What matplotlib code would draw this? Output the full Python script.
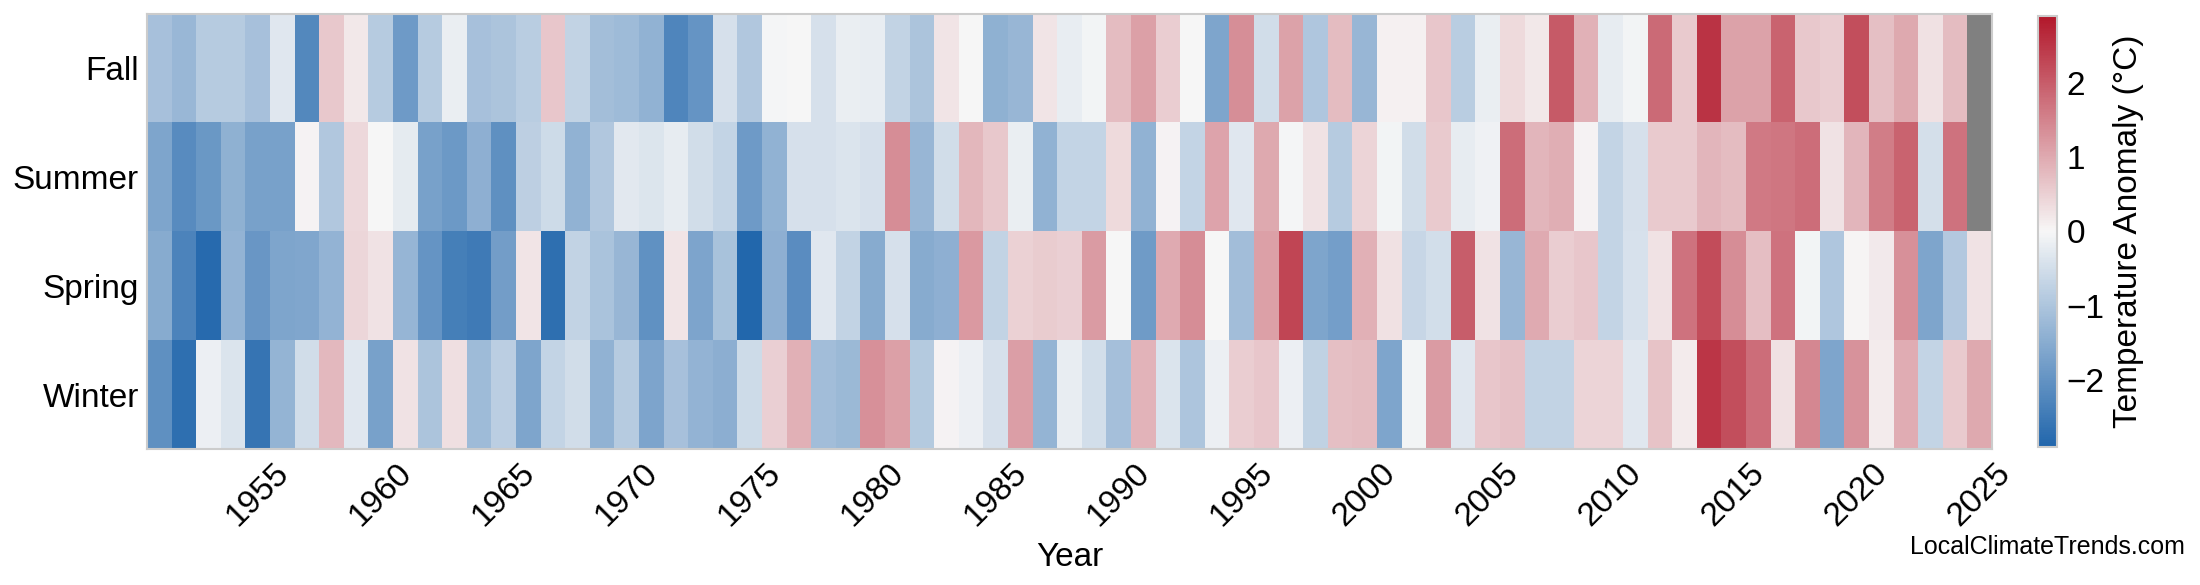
import numpy as np
import matplotlib
matplotlib.use('Agg')
import matplotlib.pyplot as plt
from matplotlib.colors import LinearSegmentedColormap

plt.rcParams['font.family'] = ['Liberation Sans', 'DejaVu Sans']

# seasonal temperature anomalies (deg C), 1951 - 2025
years = np.arange(1951, 2026)
seasons = ['Fall', 'Summer', 'Spring', 'Winter']

fall = [-1.07, -1.25, -0.88, -0.88, -1.08, -0.30, -2.20, 0.60, 0.20, -0.88,
        -1.85, -0.87, -0.17, -1.07, -1.00, -0.82, 0.63, -0.72, -1.12, -1.20,
        -1.38, -2.25, -1.95, -0.45, -0.95, -0.03, -0.02, -0.45, -0.17, -0.19,
        -0.72, -1.00, 0.23, 0.00, -1.40, -1.28, 0.23, -0.19, -0.05, 0.77,
        1.13, 0.53, 0.00, -1.62, 1.35, -0.52, 1.10, -0.97, 0.75, -1.27,
        0.08, 0.08, 0.62, -0.83, -0.17, 0.38, 0.20, 2.02, 0.90, -0.22,
        -0.05, 1.83, 0.57, 2.53, 1.10, 1.10, 1.92, 0.60, 0.53, 2.18,
        0.72, 1.00, 0.28, 0.76, np.nan]

summer = [-1.62, -2.13, -1.90, -1.40, -1.72, -1.72, 0.05, -0.95, 0.39, 0.00,
          -0.23, -1.72, -1.88, -1.42, -2.05, -0.78, -0.55, -1.37, -0.95, -0.28,
          -0.35, -0.22, -0.50, -0.68, -1.85, -1.37, -0.45, -0.45, -0.38, -0.45,
          1.37, -1.27, -0.52, 0.82, 0.60, -0.17, -1.36, -0.70,
          -0.70, 0.37, -1.37, 0.05, -0.70, 1.08, -0.30, 1.00, -0.03, 0.25, -0.87, 0.45,
          -0.05, -0.50, 0.58, -0.22, -0.10, 1.77, 0.85,
          0.93, 0.05, -0.70, -0.45, 0.57, 0.57, 0.85, 0.77, 1.62, 1.66, 1.77, 0.25,
          0.85, 1.58, 1.92, -0.47, 1.70, np.nan]

spring = [-1.50, -2.30, -2.80, -1.35, -1.92, -1.62, -1.60, -1.35, 0.43, 0.27,
          -1.30, -1.95, -2.40, -2.47, -1.78, 0.23, -2.70, -0.72, -1.03,
          -1.27, -2.03, 0.23, -1.65, -1.05, -2.87, -1.42, -2.12, -0.30, -0.72,
          -1.50, -0.45, -1.50, -1.42, 1.22, -0.72, 0.48, 0.55, 0.52,
          1.18, 0.00, -1.83, 0.98, 1.36, 0.00, -1.15, 1.12, 2.30, -1.62,
          -1.75, 0.92, 0.28, -0.65, -0.48, 1.98, 0.27, -1.27, 0.98,
          0.53, 0.63, -0.70, -0.43, 0.25, 1.70, 2.22, 1.38, 0.73, 1.70,
          -0.05, -0.97, 0.04, 0.16, 1.33, -1.62, -0.92, 0.25]

winter = [-2.06, -2.70, -0.14, -0.37, -2.60, -1.33, -0.50, 0.80, -0.30, -1.72,
          0.25, -1.00, 0.30, -1.20, -0.80, -1.62, -0.68, -0.52, -1.37,
          -0.87, -1.64, -1.07, -1.35, -1.45, -0.55, 0.50, 0.92, -1.15, -1.23,
          1.33, 1.13, -0.90, 0.05, -0.14, -0.45, 1.14, -1.33, -0.19,
          -0.48, -1.10, 0.88, -0.37, -0.98, -0.14, 0.53, 0.62, -0.15, -0.73,
          0.72, 0.77, -1.62, -0.05, 1.18, -0.30, 0.62, 0.68, -0.72,
          -0.72, 0.45, 0.45, -0.30, 0.66, 0.15, 2.50, 2.18, 1.78, 0.28,
          1.43, -1.62, 1.30, 0.15, 0.96, -0.68, 0.57, 1.00]

data = np.ma.masked_invalid(np.array([fall, summer, spring, winter]))

cmap = LinearSegmentedColormap.from_list('anom', ['#2166ac', '#f7f7f7', '#b2182b'])
cmap.set_bad('#808080')

fig = plt.figure(figsize=(22, 5.85), dpi=100)
ax = fig.add_axes([0.067, 0.2325, 0.8384, 0.7436])
im = ax.imshow(data, cmap=cmap, vmin=-2.9, vmax=2.9, aspect='auto',
               interpolation='nearest')

xt = [i for i, y in enumerate(years) if y % 5 == 0]
ax.set_xticks(xt)
ax.set_xticklabels([str(years[i]) for i in xt], rotation=45, fontsize=24)
ax.set_yticks(range(len(seasons)))
ax.set_yticklabels(seasons, fontsize=24)
ax.tick_params(length=0, pad=6)
ax.set_xlabel('Year', fontsize=24, labelpad=7)
for s in ax.spines.values():
    s.set_edgecolor('#cccccc')
    s.set_linewidth(1.5)

cax = fig.add_axes([0.9264, 0.2359, 0.00864, 0.7368])
cb = fig.colorbar(im, cax=cax, ticks=[-2, -1, 0, 1, 2])
cb.outline.set_edgecolor('#cccccc')
cb.outline.set_linewidth(1.5)
cb.ax.tick_params(length=0, labelsize=24, pad=7)
cb.set_label('Temperature Anomaly (°C)', fontsize=24, labelpad=6)

fig.text(0.993, 0.045, 'LocalClimateTrends.com', ha='right', va='bottom', fontsize=18)

fig.savefig('out.png', dpi=100)
